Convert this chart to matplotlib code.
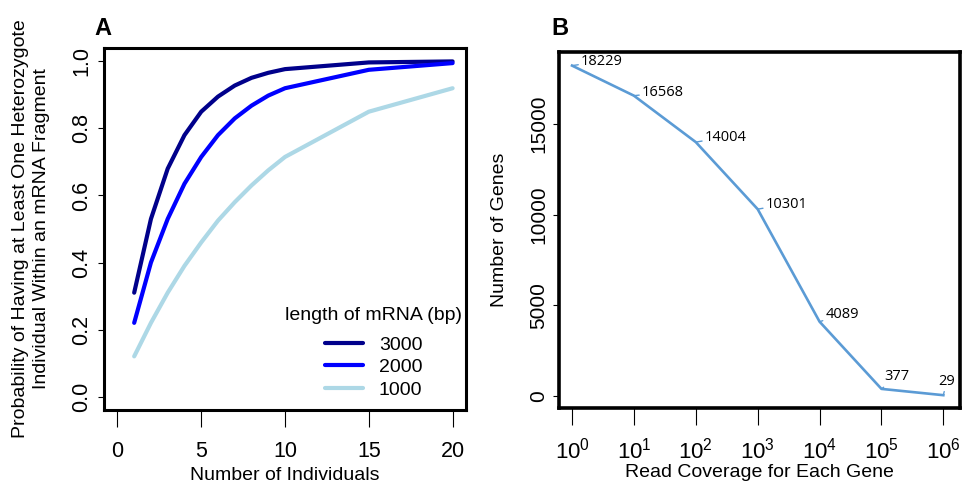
import matplotlib
matplotlib.use("Agg")
import matplotlib.pyplot as plt
import numpy as np

plt.rcParams['font.family'] = ['Liberation Sans', 'DejaVu Sans']
plt.rcParams['mathtext.default'] = 'regular'

# ---- Panel A data ----
individuals = [1, 2, 3, 4, 5, 6, 7, 8, 9, 10, 15, 20]
prob_3000 = [0.31, 0.53, 0.68, 0.78, 0.85, 0.895, 0.928, 0.951, 0.966, 0.977, 0.997, 1.0]
prob_2000 = [0.22, 0.40, 0.53, 0.635, 0.715, 0.78, 0.83, 0.868, 0.898, 0.92, 0.975, 0.995]
prob_1000 = [0.12, 0.22, 0.31, 0.39, 0.46, 0.525, 0.58, 0.63, 0.675, 0.715, 0.85, 0.92]
series_labels = ['3000', '2000', '1000']
series_colors = ['#00008B', '#0000FF', '#ADD8E6']

# ---- Panel B data ----
coverage = [1, 10, 100, 1000, 10000, 100000, 1000000]
num_genes = [18229, 16568, 14004, 10301, 4089, 377, 29]
coverage_labels = ['$10^{0}$', '$10^{1}$', '$10^{2}$', '$10^{3}$', '$10^{4}$', '$10^{5}$', '$10^{6}$']

fig = plt.figure(figsize=(9.64, 4.84), dpi=100)

# ---------- Panel A ----------
axA = fig.add_axes([0.1079, 0.1529, 0.3755, 0.7479])
for ys, lab, col in zip([prob_3000, prob_2000, prob_1000], series_labels, series_colors):
    axA.plot(individuals, ys, color=col, lw=3.0, label=lab, solid_capstyle='round',
             solid_joinstyle='round')
axA.set_xlim(-0.8, 20.8)
axA.set_ylim(-0.04, 1.04)
axA.set_xticks([0, 5, 10, 15, 20])
axA.set_yticks([0.0, 0.2, 0.4, 0.6, 0.8, 1.0])
axA.set_yticklabels(['0.0', '0.2', '0.4', '0.6', '0.8', '1.0'])
for s in axA.spines.values():
    s.set_linewidth(2.2)
axA.tick_params(axis='x', direction='out', length=12, width=0.8, pad=10, labelsize=15.5)
axA.tick_params(axis='y', direction='out', length=4.5, width=0.8, pad=4, labelsize=15.5,
                labelrotation=90)
for t in axA.get_yticklabels():
    t.set_va('center')
axA.set_xlabel('Number of Individuals', fontsize=14, labelpad=4)
axA.set_ylabel('Probability of Having at Least One Heterozygote\nIndividual Within an mRNA Fragment',
               fontsize=14, labelpad=15, linespacing=1.3)
leg = axA.legend(title='length of mRNA (bp)', loc='lower right', frameon=False,
                 fontsize=14, title_fontsize=14, handlelength=2.0, handletextpad=0.8,
                 labelspacing=0.25, borderaxespad=0.0, borderpad=0.3,
                 bbox_to_anchor=(1.005, 0.015))
leg._legend_box.sep = 9
fig.text(0.107, 0.942, 'A', fontsize=17, fontweight='bold', ha='center', va='center')

# ---------- Panel B ----------
axB = fig.add_axes([0.5799, 0.157, 0.416, 0.7355])
line_color = '#5B9BD5'
axB.plot(coverage, num_genes, color=line_color, lw=1.9)
axB.set_xscale('log')
axB.set_xlim(10 ** -0.21, 10 ** 6.27)
axB.set_ylim(-679, 18978)
axB.set_xticks(coverage)
axB.set_xticklabels(coverage_labels)
axB.minorticks_off()
axB.set_yticks([0, 5000, 10000, 15000])
for s in axB.spines.values():
    s.set_linewidth(2.6)
axB.tick_params(axis='x', direction='out', length=12, width=0.8, pad=9, labelsize=16)
axB.tick_params(axis='y', direction='out', length=4, width=0.8, pad=4, labelsize=15,
                labelrotation=90)
for t in axB.get_yticklabels():
    t.set_va('center')
axB.set_xlabel('Read Coverage for Each Gene', fontsize=14, labelpad=1)
axB.set_ylabel('Number of Genes', fontsize=14, labelpad=15)

offsets = [(6.5, 2.9), (5.8, 2.2), (6.5, 3.6), (5.8, 3.6), (4.3, 5.0), (2.2, 8.6), (-3.6, 10.0)]
for x, y, off in zip(coverage, num_genes, offsets):
    axB.annotate(f'{y}', xy=(x, y), xytext=off, textcoords='offset points',
                 fontsize=10.5, ha='left', va='center', family=['Open Sans', 'DejaVu Sans'],
                 arrowprops=dict(arrowstyle='-', color=line_color, lw=1.0,
                                 shrinkA=0, shrinkB=0))
fig.text(0.5805, 0.942, 'B', fontsize=17, fontweight='bold', ha='center', va='center')

fig.savefig('out.png', dpi=100)
